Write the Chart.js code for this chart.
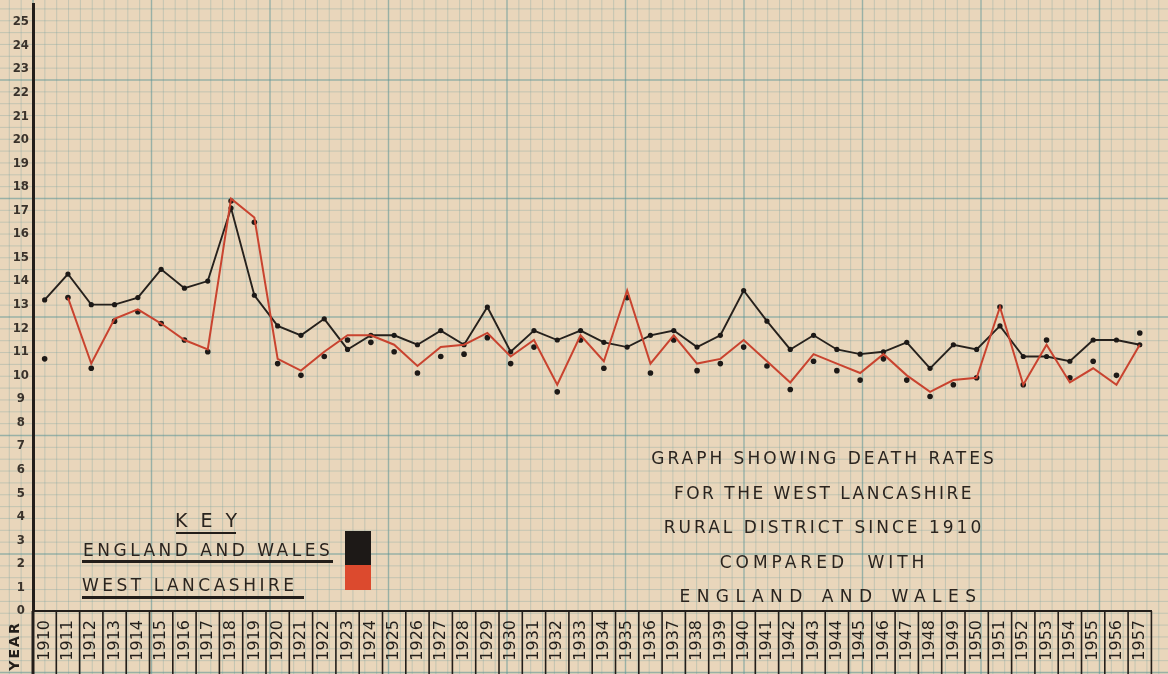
<!DOCTYPE html>
<html>
<head>
<meta charset="utf-8">
<script src="https://cdn.jsdelivr.net/npm/chart.js@4.4.1/dist/chart.umd.min.js"></script>
<style>
  html, body { margin: 0; padding: 0; }
  body {
    width: 1168px; height: 674px; overflow: hidden; position: relative;
    background: #e9d6bb; font-family: "DejaVu Sans", sans-serif; color: #2a241f;
  }
  #wrap { position: absolute; left: 0; top: 0; width: 1168px; height: 674px; }
  .txt { position: absolute; white-space: nowrap; font-size: 17px; line-height: 20px; }
  .rule { position: absolute; background: #231e1a; }
  .swatch { position: absolute; left: 345px; width: 26px; }
  #title { position: absolute; left: 604px; top: 441px; width: 440px; text-align: center; }
  #title div { font-size: 17px; line-height: 34.5px; white-space: nowrap; }
</style>
</head>
<body>
<div id="wrap"><canvas id="chart"></canvas></div>

<!-- key -->
<div class="txt" style="left:175px;top:510px;font-size:19px;letter-spacing:13px;">KEY</div>
<div class="rule" style="left:176px;top:532px;width:60px;height:2px;"></div>
<div class="txt" style="left:83px;top:540px;letter-spacing:3.5px;">ENGLAND AND WALES</div>
<div class="rule" style="left:82px;top:560px;width:251px;height:3px;"></div>
<div class="txt" style="left:82px;top:575px;letter-spacing:3.5px;">WEST LANCASHIRE</div>
<div class="rule" style="left:82px;top:596px;width:222px;height:3px;"></div>
<div class="swatch" style="top:531px;height:34px;background:#1d1917;"></div>
<div class="swatch" style="top:565px;height:25px;background:#dc4a2e;"></div>

<!-- title block -->
<div id="title">
  <div style="letter-spacing:3px;">GRAPH SHOWING DEATH RATES</div>
  <div style="letter-spacing:2.5px;">FOR THE WEST LANCASHIRE</div>
  <div style="letter-spacing:3px;">RURAL DISTRICT SINCE 1910</div>
  <div style="letter-spacing:4px;word-spacing:10px;">COMPARED WITH</div>
  <div style="letter-spacing:6.5px;word-spacing:1px;padding-left:14px;">ENGLAND AND WALES</div>
</div>

<script>
    // ---------------------------
    // Data
    // ---------------------------
    const years = ["1910","1911","1912","1913","1914","1915","1916","1917","1918","1919",
                   "1920","1921","1922","1923","1924","1925","1926","1927","1928","1929",
                   "1930","1931","1932","1933","1934","1935","1936","1937","1938","1939",
                   "1940","1941","1942","1943","1944","1945","1946","1947","1948","1949",
                   "1950","1951","1952","1953","1954","1955","1956","1957"];

    // England and Wales (black line)
    const englandWales = [13.2, 14.3, 13.0, 13.0, 13.3, 14.5, 13.7, 14.0, 17.1, 13.4,
                          12.1, 11.7, 12.4, 11.1, 11.7, 11.7, 11.3, 11.9, 11.3, 12.9,
                          11.0, 11.9, 11.5, 11.9, 11.4, 11.2, 11.7, 11.9, 11.2, 11.7,
                          13.6, 12.3, 11.1, 11.7, 11.1, 10.9, 11.0, 11.4, 10.3, 11.3,
                          11.1, 12.1, 10.8, 10.8, 10.6, 11.5, 11.5, 11.3];

    // West Lancashire, the red line as drawn
    const westLancsLine = [null, 13.3, 10.5, 12.4, 12.8, 12.2, 11.5, 11.1, 17.5, 16.7,
                           10.7, 10.2, 11.0, 11.7, 11.7, 11.3, 10.4, 11.2, 11.3, 11.8,
                           10.8, 11.5, 9.6, 11.7, 10.6, 13.6, 10.5, 11.7, 10.5, 10.7,
                           11.5, 10.6, 9.7, 10.9, 10.5, 10.1, 10.9, 10.0, 9.3, 9.8,
                           9.9, 12.9, 9.6, 11.3, 9.7, 10.3, 9.6, 11.3];

    // West Lancashire, the plotted ink dots
    const westLancsDots = [10.7, 13.3, 10.3, 12.3, 12.7, 12.2, 11.5, 11.0, 17.4, 16.5,
                           10.5, 10.0, 10.8, 11.5, 11.4, 11.0, 10.1, 10.8, 10.9, 11.6,
                           10.5, 11.2, 9.3, 11.5, 10.3, 13.3, 10.1, 11.5, 10.2, 10.5,
                           11.2, 10.4, 9.4, 10.6, 10.2, 9.8, 10.7, 9.8, 9.1, 9.6,
                           9.9, 12.9, 9.6, 11.5, 9.9, 10.6, 10.0, 11.8];

    const INK = "#231e1a";

    // ---------------------------
    // graph paper backdrop
    // ---------------------------
    const paperPlugin = {
      id: "paper",
      beforeDraw(chart) {
        const ctx = chart.ctx, w = chart.width, h = chart.height;
        const step = 11.85;
        const minor = "rgba(115,160,160,0.32)", heavy = "rgba(85,145,150,0.55)";
        ctx.save();
        ctx.fillStyle = "#e9d6bb";
        ctx.fillRect(0, 0, w, h);
        for (let k = -3; 33 + k * step < w; k++) {
          const px = 33 + k * step;
          const big = k % 10 === 0;
          ctx.strokeStyle = big ? heavy : minor;
          ctx.lineWidth = big ? 1.4 : 1;
          ctx.beginPath(); ctx.moveTo(px, 0); ctx.lineTo(px, h); ctx.stroke();
        }
        for (let k = -7; 80 + k * step < h; k++) {
          const py = 80 + k * step;
          const big = k % 10 === 0;
          ctx.strokeStyle = big ? heavy : minor;
          ctx.lineWidth = big ? 1.4 : 1;
          ctx.beginPath(); ctx.moveTo(0, py); ctx.lineTo(w, py); ctx.stroke();
        }
        ctx.restore();
      }
    };

    // ---------------------------
    // year boxes under the axis
    // ---------------------------
    const yearBoxPlugin = {
      id: "yearBoxes",
      afterDraw(chart) {
        const ctx = chart.ctx, area = chart.chartArea, x = chart.scales.x;
        const half = (x.getPixelForValue(1) - x.getPixelForValue(0)) / 2;
        ctx.save();
        ctx.strokeStyle = INK;
        ctx.lineWidth = 1.6;
        for (let i = 0; i <= years.length; i++) {
          const px = x.getPixelForValue(i) - half;
          ctx.beginPath(); ctx.moveTo(px, area.bottom); ctx.lineTo(px, chart.height); ctx.stroke();
        }
        // y axis carries on down through the year row
        ctx.lineWidth = 3;
        ctx.beginPath(); ctx.moveTo(area.left, area.bottom); ctx.lineTo(area.left, chart.height); ctx.stroke();
        // YEAR label
        ctx.translate(15, 646);
        ctx.rotate(-Math.PI / 2);
        ctx.fillStyle = INK;
        ctx.font = "bold 14px 'DejaVu Sans'";
        ctx.letterSpacing = "2px";
        ctx.textAlign = "center";
        ctx.textBaseline = "middle";
        ctx.fillText("YEAR", 0, 0);
        ctx.restore();
      }
    };

    new Chart(document.getElementById("chart"), {
      type: "line",
      data: {
        labels: years,
        datasets: [
          {
            label: "West Lancashire",
            data: westLancsLine,
            borderColor: "#c9432f",
            borderWidth: 2,
            pointRadius: 0,
            tension: 0,
            spanGaps: false
          },
          {
            label: "England and Wales",
            data: englandWales,
            borderColor: "#26211d",
            borderWidth: 1.9,
            pointRadius: 2.6,
            pointBackgroundColor: "#1d1917",
            pointBorderWidth: 0,
            tension: 0
          },
          {
            label: "West Lancashire dots",
            data: westLancsDots,
            showLine: false,
            pointRadius: 2.8,
            pointBackgroundColor: "#1d1917",
            pointBorderWidth: 0
          }
        ]
      },
      options: {
        responsive: true,
        maintainAspectRatio: false,
        animation: false,
        layout: { padding: { top: 0, right: 4, bottom: 0, left: 0 } },
        plugins: { legend: { display: false }, tooltip: { enabled: false } },
        scales: {
          x: {
            type: "category",
            offset: true,
            grid: { display: false, drawTicks: false },
            border: { display: true, color: INK, width: 2 },
            ticks: {
              autoSkip: false,
              minRotation: 90,
              maxRotation: 90,
              padding: 9,
              color: INK,
              font: { family: "DejaVu Sans", size: 16 }
            },
            afterFit(scale) { scale.height = 63; }
          },
          y: {
            min: 0,
            max: 25.76,
            grid: { display: false, drawTicks: false },
            border: { display: true, color: INK, width: 3 },
            ticks: {
              stepSize: 1,
              includeBounds: false,
              crossAlign: "center",
              padding: 4,
              color: "#3a322b",
              font: { family: "DejaVu Sans Condensed", size: 13, weight: "bold" },
              callback: v => Number.isInteger(v) ? v : ""
            },
            afterFit(scale) {
              scale.width = 33;
              scale.paddingTop = 0;
              scale.paddingBottom = 0;
            }
          }
        }
      },
      plugins: [paperPlugin, yearBoxPlugin]
    });
</script>
</body>
</html>
